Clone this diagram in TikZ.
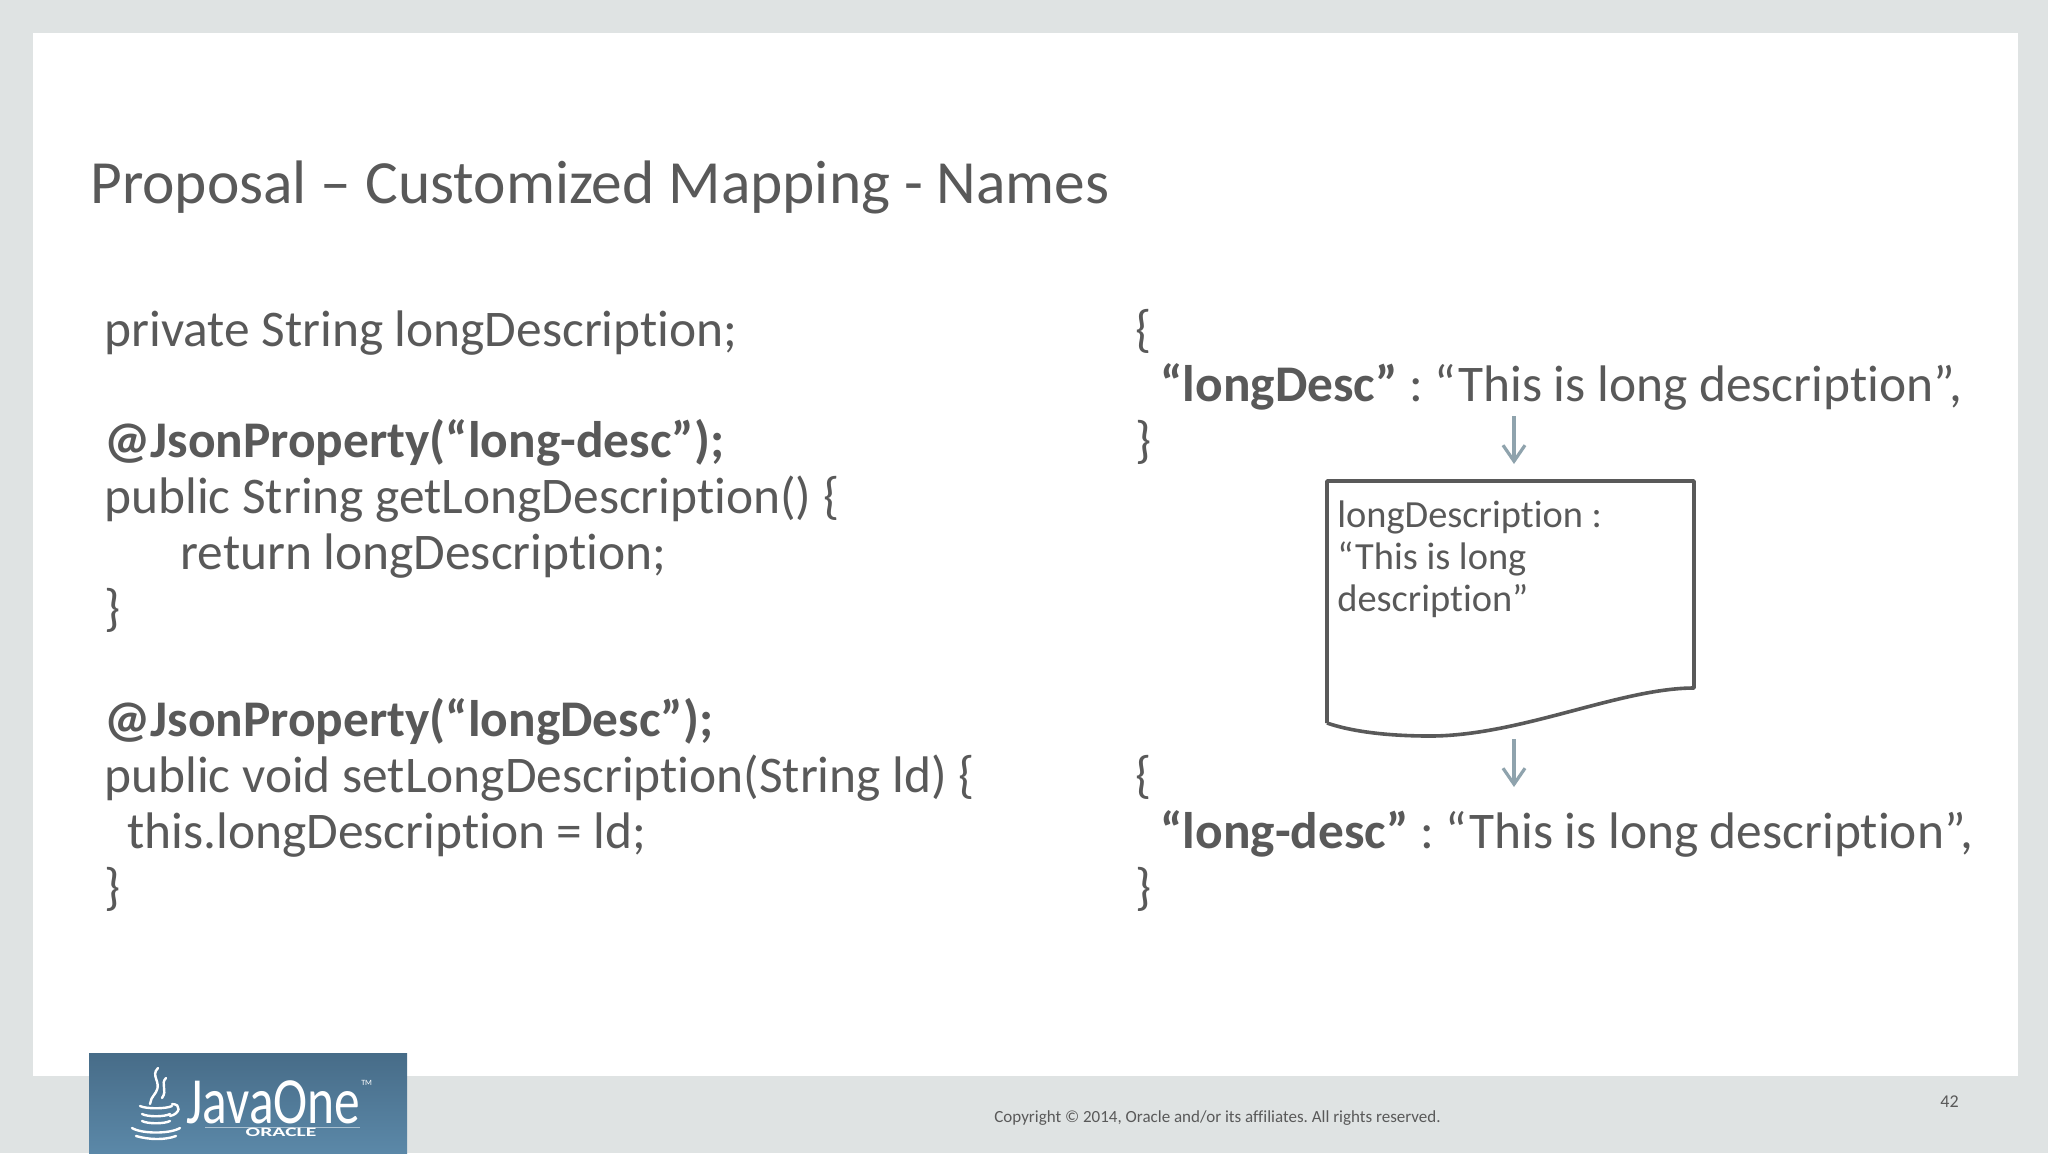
\documentclass[tikz,border=0pt]{standalone}
\usepackage{fontspec}
\setmainfont{Carlito}[Ligatures=NoCommon]
\usetikzlibrary{arrows.meta}
\definecolor{bggray}{HTML}{DFE3E3}
\definecolor{txt}{HTML}{595959}
\definecolor{arrowc}{HTML}{8FA3AD}
\definecolor{logotop}{HTML}{476C88}
\definecolor{logobot}{HTML}{5B88A8}
\tikzset{
  codetxt/.style={anchor=base west, inner sep=0pt, text=txt, font=\fontsize{25.7}{28}\selectfont},
  titletxt/.style={anchor=base west, inner sep=0pt, text=txt, font=\fontsize{30.7}{36}\selectfont},
  boxtxt/.style={anchor=base west, inner sep=0pt, text=txt, font=\fontsize{19.2}{21}\selectfont},
  flowarrow/.style={draw=arrowc, line width=1.6pt, -{Straight Barb[length=8pt,width=11pt,line width=1.6pt]}},
  docshape/.style={draw=txt, line width=1.8pt, line join=round},
  smalltxt/.style={anchor=base west, inner sep=0pt, text=txt, font=\fontsize{8.5}{10}\selectfont},
  logotxt/.style={inner sep=0pt, text=white},
}
\begin{document}
\frenchspacing
\begin{tikzpicture}[x=0.5pt,y=-0.5pt]
\useasboundingbox (0,0) rectangle (2048,1153);
\fill[bggray] (0,0) rectangle (2048,1153);
\fill[white] (33,33) rectangle (2018,1076);

% title
\node[titletxt] (title) at (90,203) {Proposal – Customized Mapping - Names};

% left code
\node[codetxt] (l1) at (104,346) {private String longDescription;};
\node[codetxt] (l3) at (104,457.6) {\bfseries @JsonProperty(“long-desc”);};
\node[codetxt] (l4) at (104,513.4) {public String getLongDescription() \{};
\node[codetxt] (l5) at (180,569.2) {return longDescription;};
\node[codetxt] (l6) at (104,625) {\}};
\node[codetxt] (l8) at (104,736.6) {\bfseries @JsonProperty(“longDesc”);};
\node[codetxt] (l9) at (104,792.4) {public void setLongDescription(String ld) \{};
\node[codetxt] (l10) at (127,848.2) {this.longDescription = ld;};
\node[codetxt] (l11) at (104,904) {\}};

% right JSON top
\node[codetxt] (j1) at (1135,346) {\{};
\node[codetxt] (j2) at (1160,401.8) {\textbf{“longDesc”} : “This is long description”,};
\node[codetxt] (j3) at (1135,457.6) {\}};

% right JSON bottom
\node[codetxt] (k1) at (1135,792.4) {\{};
\node[codetxt] (k2) at (1160,848.2) {\textbf{“long-desc”} : “This is long description”,};
\node[codetxt] (k3) at (1135,904) {\}};

% document shape
\coordinate (dtl) at (1327,481);
\coordinate (dtr) at (1694,481);
\coordinate (dbr) at (1694,688);
\coordinate (dbl) at (1327,723);
\draw[docshape] (dbl) -- (dtl) -- (dtr) -- (dbr)
  .. controls (1620,688) and (1520,736) .. (1430,736)
  .. controls (1385,736) and (1350,731) .. (dbl);
\node[boxtxt] (doctext1) at (1337,527) {longDescription :};
\node[boxtxt] (doctext2) at (1337,569) {“This is long};
\node[boxtxt] (doctext3) at (1337,611) {description”};

% arrows
\coordinate (a1s) at (1514,416);
\coordinate (a1e) at (1514,464);
\coordinate (a2s) at (1514,739);
\coordinate (a2e) at (1514,787);
\draw[flowarrow] (a1s) -- (a1e);
\draw[flowarrow] (a2s) -- (a2e);

% footer
\node[smalltxt] (copy) at (994,1122) {Copyright © 2014, Oracle and/or its affiliates. All rights reserved.};
\node[smalltxt, font=\fontsize{9}{10}\selectfont] (pnum) at (1940,1107) {42};

% logo
\shade[top color=logotop, bottom color=logobot] (89,1053) rectangle (407,1153);
\node[logotxt, anchor=base west] (java) at (186,1123) {\fontsize{33}{36}\selectfont\scalebox{0.78}[1]{JavaOne}};
\node[logotxt, anchor=north west] (tm) at (java.north east) {\fontsize{4}{5}\selectfont TM};
\draw[white, line width=0.3pt, opacity=0.5] (205,1127) -- (360,1127);
\node[logotxt, anchor=base] (oracle) at (281,1136) {\fontsize{8}{9}\selectfont\bfseries\scalebox{1.35}[0.8]{ORACLE}};
% cup icon
\begin{scope}[white, line width=1.2pt, line cap=round]
\draw (158,1068) .. controls (150,1076) and (162,1082) .. (156,1092) .. controls (152,1098) and (150,1100) .. (150,1104);
\draw (166,1078) .. controls (160,1084) and (168,1090) .. (162,1098);
\draw (140,1106) .. controls (146,1109) and (166,1109) .. (172,1106);
\draw (172,1104) .. controls (182,1104) and (180,1114) .. (170,1116);
\draw (142,1114) .. controls (148,1117) and (164,1117) .. (170,1114);
\draw (142,1121) .. controls (148,1124) and (164,1124) .. (170,1121);
\draw (132,1128) .. controls (142,1134) and (170,1134) .. (180,1128);
\draw (136,1136) .. controls (150,1140) and (165,1140) .. (176,1136);
\end{scope}
\end{tikzpicture}
\end{document}
